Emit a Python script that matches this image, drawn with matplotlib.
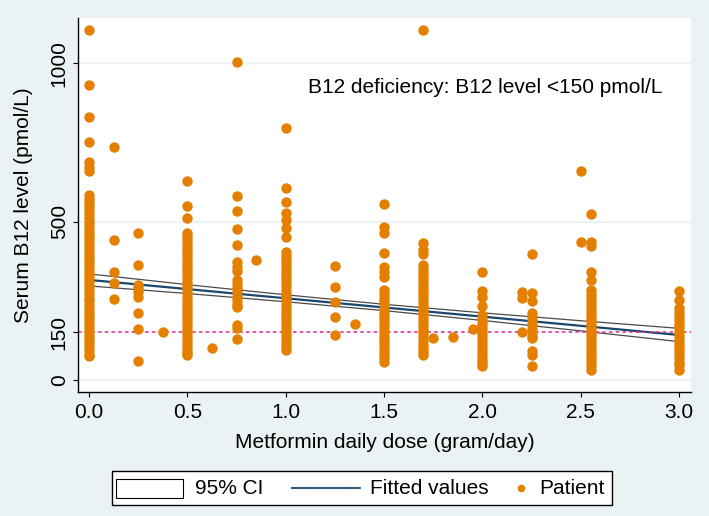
import numpy as np
import matplotlib
matplotlib.use("Agg")
import matplotlib.pyplot as plt
from matplotlib.patches import Rectangle
from matplotlib.lines import Line2D
from matplotlib.offsetbox import DrawingArea, TextArea, HPacker, AnchoredOffsetbox

plt.rcParams['font.family'] = ['Liberation Sans', 'DejaVu Sans']

# serum B12 (pmol/L) for each metformin dose group (gram/day)
b12_d0000 = [1105, 933, 829, 753, 689, 673, 660,
             584, 572, 561, 549, 536, 525, 512, 500, 489, 476, 465, 452, 441,
             428, 417, 404, 393, 380, 369, 356, 345, 332, 321, 308, 297, 284,
             273, 260, 249, 236, 225, 212, 201, 188, 177, 164, 153, 140, 129,
             116, 105, 92, 80, 75]
b12_d0125 = [736, 442, 340, 307, 256]
b12_d0250 = [463, 364, 300, 290, 278, 263, 213, 162, 61]
b12_d0375 = [151]
b12_d0500 = [628, 548, 511,
             464, 452, 441, 430, 418, 405, 394, 382, 370, 358, 347, 335, 322,
             310, 298, 287, 275, 262, 250, 238, 226, 214, 203, 191, 180, 168,
             156, 144, 132, 120, 108, 96, 85, 79]
b12_d0625 = [102]
b12_d0750 = [1005, 580, 534, 476, 427, 374, 358, 345, 316, 303, 290, 277,
             263, 250, 238, 231, 174, 163, 128]
b12_d0850 = [379]
b12_d1000 = [795, 605, 561, 526, 505, 480, 452,
             405, 393, 381, 369, 357, 345, 333, 321, 309, 297, 285, 273, 261,
             249, 237, 225, 213, 201, 189, 177, 165, 153, 141, 129, 117, 106, 95]
b12_d1250 = [361, 295, 245, 200, 142]
b12_d1350 = [177]
b12_d1500 = [556, 484, 463, 400, 358, 342, 326,
             284, 272, 260, 248, 236, 224, 212, 200, 188, 176, 164, 152, 140,
             128, 116, 104, 92, 80, 68, 58]
b12_d1700 = [1105, 434, 410, 398,
             363, 351, 339, 327, 315, 303, 291, 279, 267, 255, 243, 231, 219,
             207, 195, 183, 171, 159, 147, 135, 123, 111, 99, 87, 79]
b12_d1750 = [131]
b12_d1850 = [137]
b12_d1950 = [160]
b12_d2000 = [340, 282, 263, 234,
             205, 193, 181, 169, 157, 145, 133, 121, 109, 97, 85, 73, 61, 50, 45]
b12_d2200 = [278, 258, 153]
b12_d2250 = [399, 275, 250,
             210, 198, 186, 174, 162, 150, 138, 132, 93, 79, 45]
b12_d2500 = [659, 437]
b12_d2550 = [525, 437, 424, 340, 316,
             285, 273, 261, 249, 237, 225, 213, 201, 189, 177, 165, 153, 141,
             129, 117, 105, 93, 81, 69, 57, 45, 33]
b12_d3000 = [282, 254,
             226, 214, 202, 190, 178, 166, 154, 142, 130, 118, 106, 94, 82,
             70, 58, 46, 33]

dose_levels = [0.0, 0.125, 0.25, 0.375, 0.5, 0.625, 0.75, 0.85, 1.0, 1.25,
               1.35, 1.5, 1.7, 1.75, 1.85, 1.95, 2.0, 2.2, 2.25, 2.5, 2.55, 3.0]
b12_groups = [b12_d0000, b12_d0125, b12_d0250, b12_d0375, b12_d0500,
              b12_d0625, b12_d0750, b12_d0850, b12_d1000, b12_d1250,
              b12_d1350, b12_d1500, b12_d1700, b12_d1750, b12_d1850,
              b12_d1950, b12_d2000, b12_d2200, b12_d2250, b12_d2500,
              b12_d2550, b12_d3000]

# fitted line and 95% CI
fit_dose = [0.0, 0.5, 1.0, 1.5, 2.0, 2.5, 3.0]
fit_b12 = [316, 287, 258, 229, 200, 171, 142]
ci_upper = [335, 301, 269, 239, 212, 187, 163]
ci_lower = [297, 273, 247, 219, 188, 155, 121]

x_ticks = [0.0, 0.5, 1.0, 1.5, 2.0, 2.5, 3.0]
y_ticks = [0, 150, 500, 1000]
cutoff = 150

bg = '#eaf2f3'
orange = '#e47f00'
navy = '#1a476f'

dose = np.concatenate([[d] * len(v) for d, v in zip(dose_levels, b12_groups)])
b12 = np.concatenate(b12_groups)

fig = plt.figure(figsize=(7.09, 5.16), dpi=100, facecolor=bg)
ax = fig.add_axes([0.110, 0.2403, 0.8646, 0.7248])
ax.set_facecolor('white')

for y in y_ticks:
    ax.axhline(y, color=bg, lw=1.3, zorder=0)

ax.fill_between(fit_dose, ci_lower, ci_upper, facecolor='white',
                edgecolor='none', zorder=1)
ax.plot(fit_dose, ci_upper, color='#4a4a4a', lw=0.9, zorder=2)
ax.plot(fit_dose, ci_lower, color='#4a4a4a', lw=0.9, zorder=2)
ax.plot(fit_dose, fit_b12, color=navy, lw=1.6, zorder=2)
ax.axhline(cutoff, color='#e3288c', lw=1.1, ls=(0, (2.2, 2.2)), zorder=2)

ax.scatter(dose, b12, s=56, color=orange, linewidths=0, zorder=3)

ax.text(0.375, 0.813, 'B12 deficiency: B12 level <150 pmol/L',
        transform=ax.transAxes, fontsize=15, ha='left', va='center')

ax.set_xlim(-0.056, 3.06)
ax.set_ylim(-38, 1143)
ax.set_xticks(x_ticks)
ax.set_xticklabels([f'{t:.1f}' for t in x_ticks])
ax.set_yticks(y_ticks)
ax.set_yticklabels([str(t) for t in y_ticks], rotation=90, va='center')
ax.tick_params(axis='both', labelsize=15, length=3.6, width=0.8,
               color='black', direction='out')
ax.tick_params(axis='x', pad=4)
ax.tick_params(axis='y', pad=3)
for s in ['top', 'right']:
    ax.spines[s].set_visible(False)
for s in ['left', 'bottom']:
    ax.spines[s].set_linewidth(1.0)
    ax.spines[s].set_color('black')

ax.set_xlabel('Metformin daily dose (gram/day)', fontsize=15, labelpad=8)
ax.set_ylabel('Serum B12 level (pmol/L)', fontsize=15, labelpad=12)

# legend laid out by hand to match the spacing of the original
px = 0.72
h = 34 * px
da_ci = DrawingArea(83 * px, h)
da_ci.add_artist(Rectangle((4 * px, 7.5 * px), 67 * px, 19 * px,
                           facecolor='white', edgecolor='black', lw=0.8))
da_fit = DrawingArea(107 * px, h)
da_fit.add_artist(Line2D([29 * px, 97 * px], [h / 2, h / 2], color=navy, lw=1.3))
da_dot = DrawingArea(50 * px, h)
da_dot.add_artist(Line2D([32 * px], [h / 2], marker='o', ms=5.5, color=orange,
                         ls='none', mew=0))
da_end = DrawingArea(8 * px, h)
tp = dict(fontsize=15)
box = HPacker(children=[da_ci, TextArea('95% CI', textprops=tp), da_fit,
                        TextArea('Fitted values', textprops=tp), da_dot,
                        TextArea('Patient', textprops=tp), da_end],
              align='center', pad=0, sep=0)
leg = AnchoredOffsetbox(loc='center', child=box, pad=0, borderpad=0,
                        frameon=True, bbox_to_anchor=(0.511, 0.054),
                        bbox_transform=fig.transFigure)
leg.patch.set_edgecolor('black')
leg.patch.set_facecolor('white')
leg.patch.set_linewidth(1.0)
fig.add_artist(leg)

fig.savefig('out.png', dpi=100, facecolor=bg)
